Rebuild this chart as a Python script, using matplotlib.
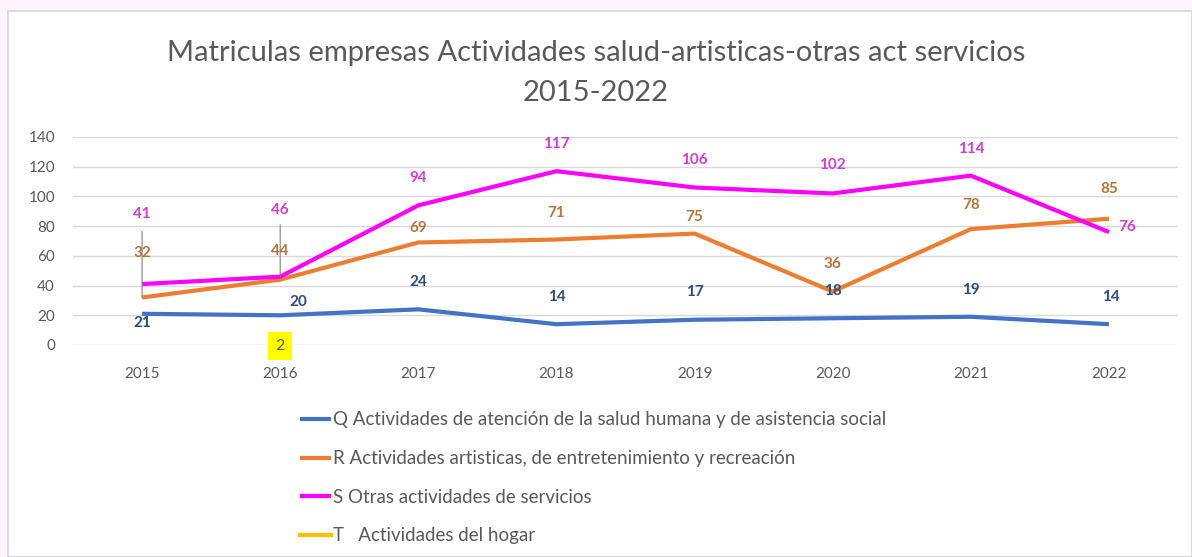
import matplotlib
matplotlib.use("Agg")
import matplotlib.pyplot as plt
from matplotlib.patches import Rectangle
import numpy as np

plt.rcParams['font.family'] = ['Lato', 'DejaVu Sans']

years = ['2015', '2016', '2017', '2018', '2019', '2020', '2021', '2022']
q_vals = [21, 20, 24, 14, 17, 18, 19, 14]
r_vals = [32, 44, 69, 71, 75, 36, 78, 85]
s_vals = [41, 46, 94, 117, 106, 102, 114, 76]
t_vals = [np.nan, 2, np.nan, np.nan, np.nan, np.nan, np.nan, np.nan]

q_name = 'Q Actividades de atención de la salud humana y de asistencia social'
r_name = 'R Actividades artisticas, de entretenimiento y recreación'
s_name = 'S Otras actividades de servicios'
t_name = 'T   Actividades del hogar'

# label offsets in pixels (dx, dy), dy up
q_off = [(0, -9), (18, 13), (0, 27), (0, 27), (0, 28), (0, 27), (0, 27), (2, 27)]
r_off = [(0, 44), (0, 29), (0, 14), (0, 27), (0, 17), (0, 28), (0, 24), (0, 30)]
s_off = [(0, 70), (0, 67), (0, 27), (0, 27), (0, 28), (0, 28), (0, 27), (18, 5)]

fig = plt.figure(figsize=(11.92, 5.57), dpi=100)
fig.patch.set_facecolor('#fdf4fd')
fig.patches.append(Rectangle((8 / 1192, 0), 1 - 8 / 1192, 1 - 11 / 557,
                             transform=fig.transFigure, facecolor='white',
                             edgecolor='#d6d6d6', linewidth=1.2, zorder=-5))

ax = fig.add_axes([73 / 1192, 1 - 345 / 557, (1178 - 73) / 1192, (345 - 137) / 557])
ax.set_zorder(2)
ax.set_facecolor('none')
x = np.arange(len(years))

series = [
    (q_vals, q_name, '#4472C4', '#2f4a80', q_off),
    (r_vals, r_name, '#ED7D31', '#b8733c', r_off),
    (s_vals, s_name, '#FF00FF', '#d43cd4', s_off),
]
for vals, name, col, lcol, offs in series:
    ax.plot(x, vals, color=col, lw=3, label=name, solid_capstyle='butt', zorder=3)
    for i, v in enumerate(vals):
        dx, dy = offs[i]
        ax.annotate(str(v), (x[i], v), xytext=(dx * 0.72, dy * 0.72),
                    textcoords='offset points', ha='center', va='center',
                    fontsize=11, fontweight='bold', color=lcol, zorder=4)

ax.plot(x, t_vals, color='#FFC000', lw=3, label=t_name)
ax.annotate(str(t_vals[1]), (x[1], t_vals[1]), xytext=(0, -3),
            textcoords='offset points', ha='center', va='center',
            fontsize=11.5, color='#5a5a2a',
            bbox=dict(boxstyle='square,pad=0.45', fc='#ffff00', ec='none'))

# leader lines
ax.annotate('', (x[0], r_vals[0]), xytext=(x[0], r_vals[0] + 66 / 1.486),
            arrowprops=dict(arrowstyle='-', color='#808080', lw=0.8, shrinkA=0, shrinkB=0))
ax.annotate('', (x[1], s_vals[1]), xytext=(x[1], s_vals[1] + 52 / 1.486),
            arrowprops=dict(arrowstyle='-', color='#808080', lw=0.8, shrinkA=0, shrinkB=0))

ax.set_xlim(-0.5, len(years) - 0.5)
ax.set_ylim(0, 140)
ax.set_yticks(range(0, 141, 20))
ax.set_xticks(x)
ax.set_xticklabels(years)
ax.grid(axis='y', color='#d9d9d9', lw=1)
ax.set_axisbelow(True)
for sp in ax.spines.values():
    sp.set_visible(False)
ax.tick_params(length=0, colors='#595959', labelsize=11)
ax.tick_params(axis='x', pad=16)
ax.tick_params(axis='y', pad=13)

fig.text(0.5, 1 - 53 / 557, 'Matriculas empresas Actividades salud-artisticas-otras act servicios',
         ha='center', va='center', fontsize=21, color='#595959')
fig.text(0.5, 1 - 93 / 557, '2015-2022', ha='center', va='center', fontsize=21, color='#595959')

fig.legend(loc='upper left', bbox_to_anchor=(292 / 1192, 1 - 404 / 557), frameon=False,
           fontsize=13.5, labelcolor='#595959', handlelength=1.7, handletextpad=0.1,
           labelspacing=1.15, borderaxespad=0)

fig.savefig('out.png', dpi=100, facecolor=fig.get_facecolor())
